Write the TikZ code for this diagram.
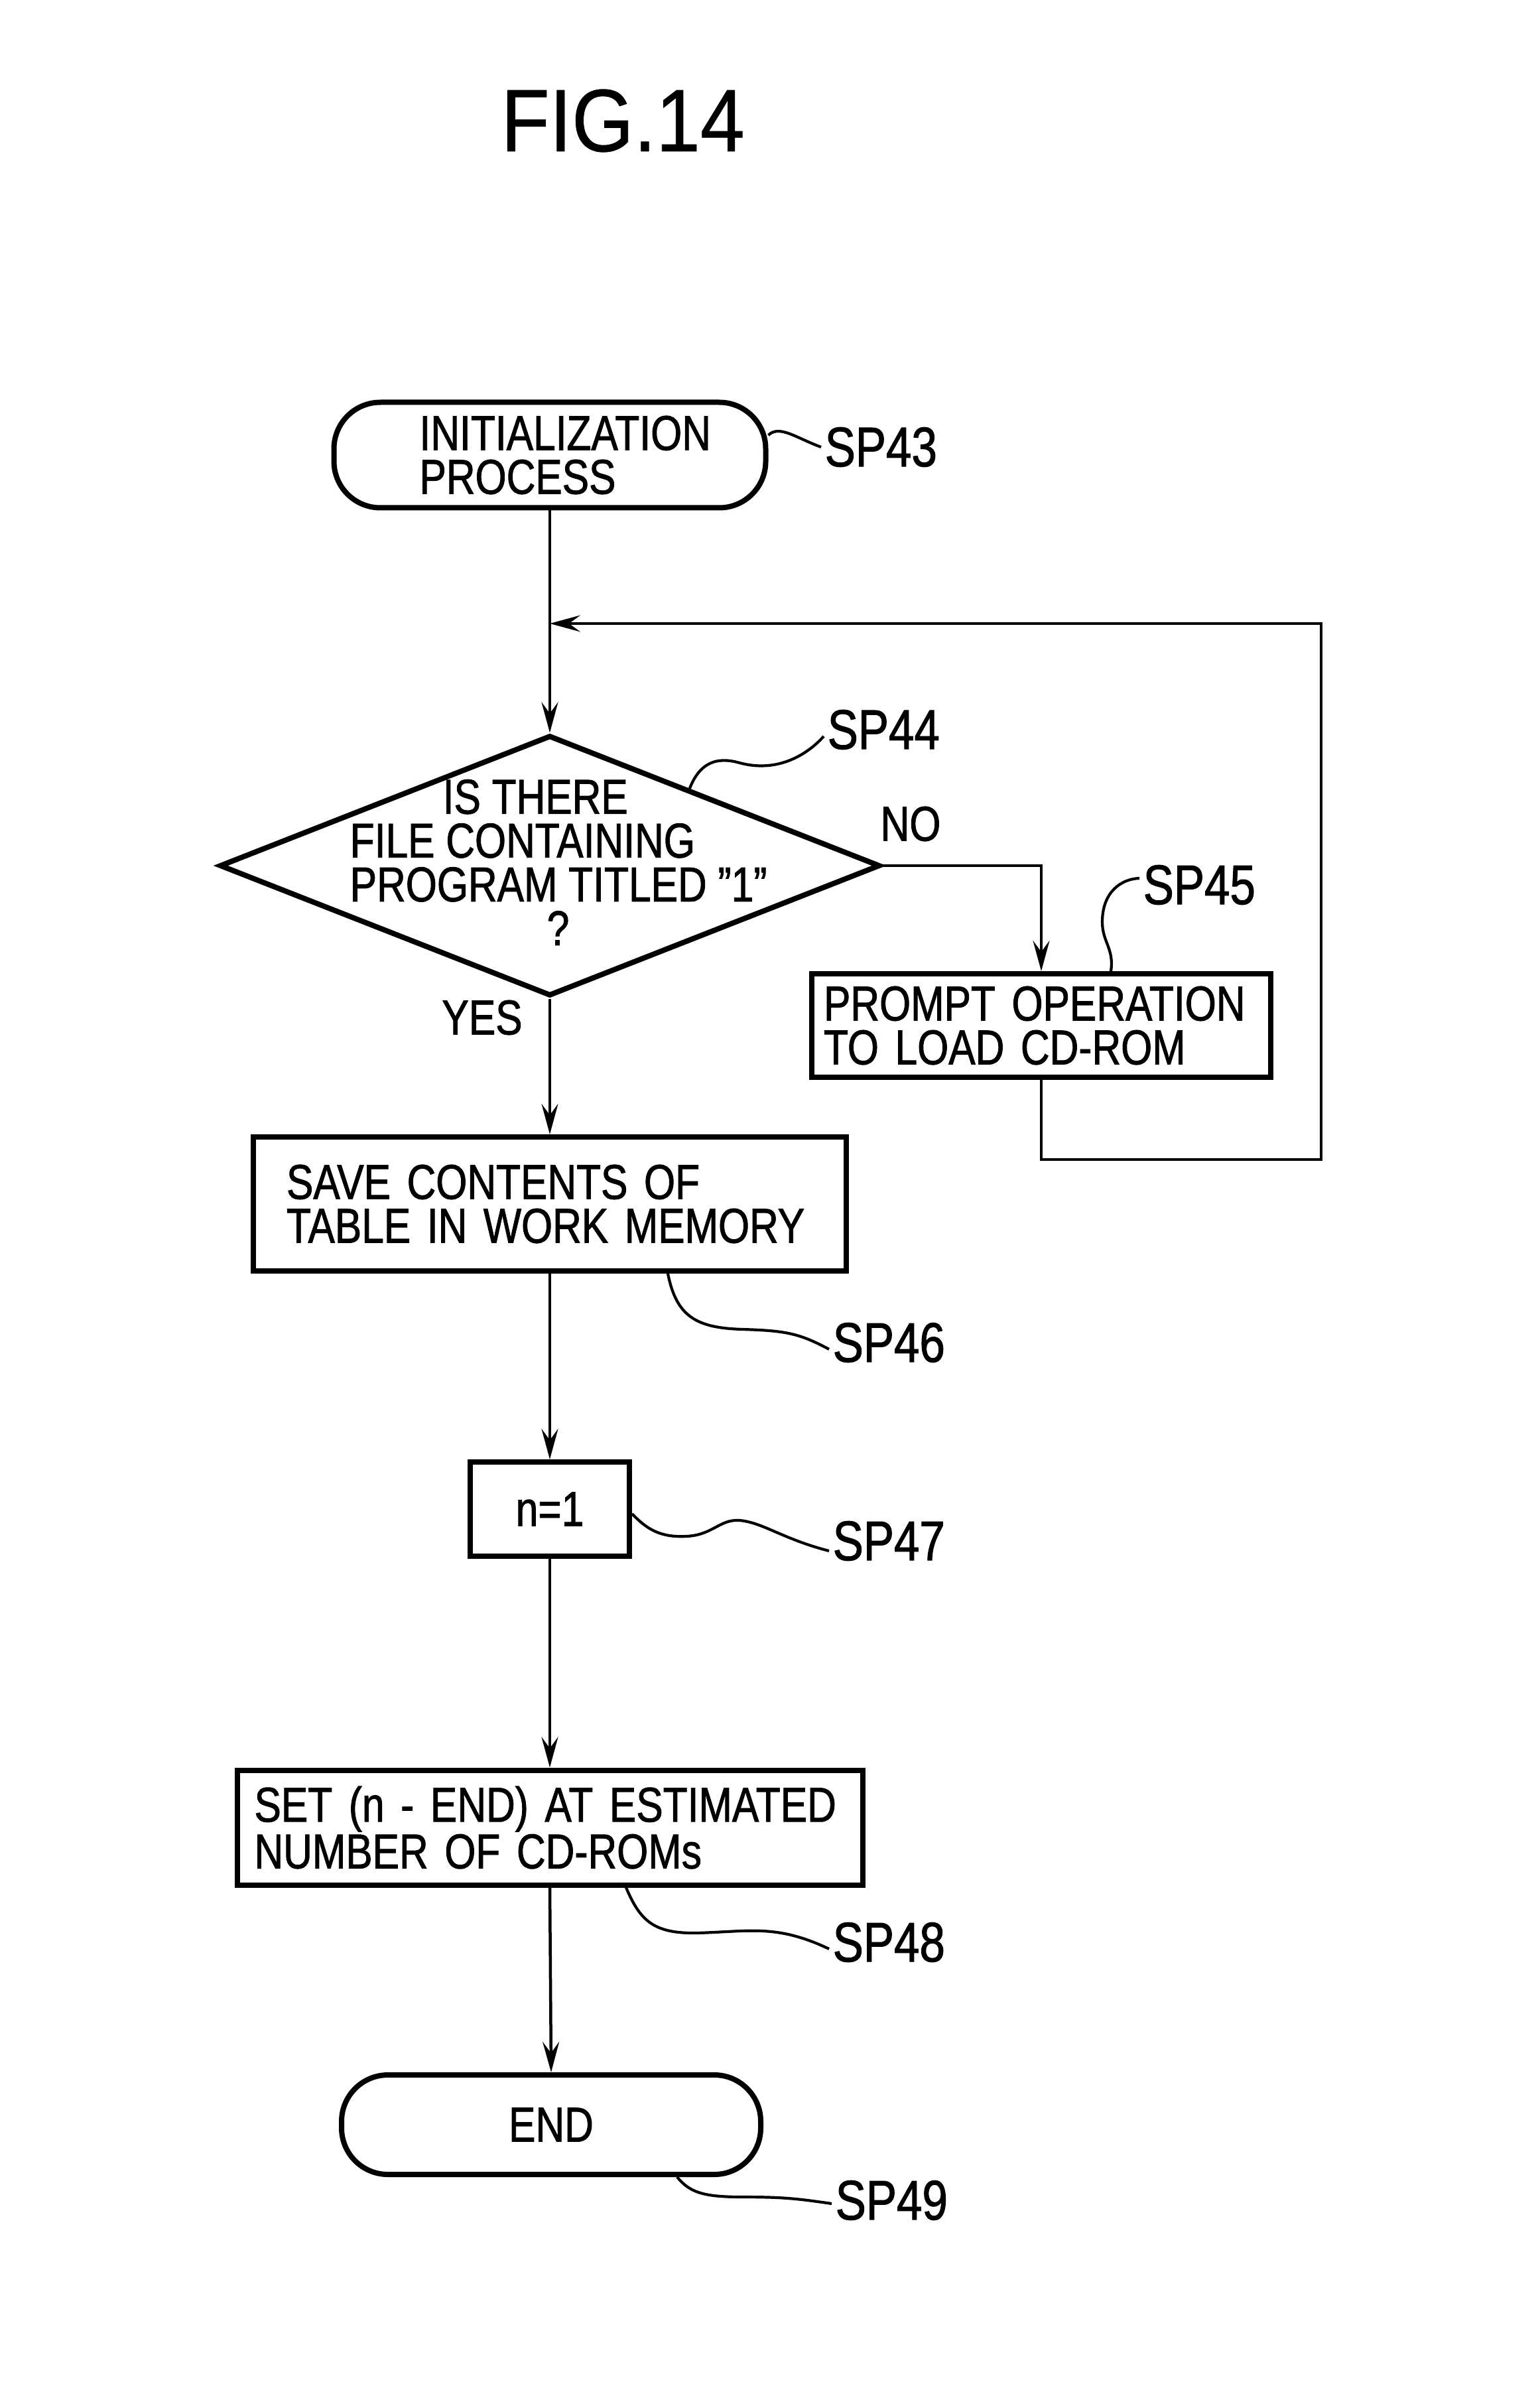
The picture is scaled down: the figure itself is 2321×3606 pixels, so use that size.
\documentclass[tikz,border=0pt]{standalone}
\usepackage{fontspec}
\setmainfont{Liberation Sans}[FakeStretch=0.82,FakeBold=1.2]
\newfontfamily\titlefamily{Liberation Sans}[FakeStretch=0.9,FakeBold=0.6]
\usetikzlibrary{shapes.geometric,arrows.meta,calc}
\newcommand\bxfont{\fontsize{21pt}{18.8pt}\selectfont}
\newcommand\lbfont{\fontsize{24pt}{24pt}\selectfont}
\newcommand\ttlfont{\titlefamily\fontsize{38pt}{38pt}\selectfont}
\begin{document}
\begin{tikzpicture}[x=0.1mm,y=-0.1mm,
  box/.style={draw,line width=0.8mm,rectangle,inner ysep=0pt,font=\bxfont,align=left},
  term/.style={draw,line width=0.8mm,rectangle,rounded corners=7mm,inner ysep=0pt,font=\bxfont},
  conn/.style={line width=0.45mm},
  arr/.style={conn,-{Stealth[length=4.6mm,width=2.5mm,inset=1.7mm]}},
  sq/.style={line width=0.42mm},
  lab/.style={font=\lbfont,anchor=west,inner sep=0.5mm},
  txt/.style={font=\bxfont}]
\fill[white] (0,0) rectangle (2321,3606);
\useasboundingbox (0,0) rectangle (2321,3606);

\node[font=\ttlfont] (title) at (939,182) {FIG.14};

% nodes
\node[term,inner xsep=12.9mm,text width=39.3mm,align=left,minimum height=15.9mm] (s43) at (829,686) {INITIALIZATION\\PROCESS};
\node[diamond,draw,line width=0.8mm,minimum width=99.6mm,minimum height=39.3mm,inner sep=0pt] (s44) at (829,1305) {};
\node[txt,align=left,anchor=west,inner sep=0pt] (s44t) at (527,1300) {\hspace*{14mm}IS THERE\\FILE CONTAINING\\PROGRAM TITLED \char"22 1\char"22\\\hspace*{29.7mm}?};
\node[box,minimum height=15.6mm,inner xsep=1.8mm,text width=65.6mm] (s45) at (1570,1546) {PROMPT OPERATION\\TO LOAD CD-ROM};
\node[box,minimum height=20.2mm,inner xsep=5mm,text width=79.4mm] (s46) at (829,1815) {SAVE CONTENTS OF\\TABLE IN WORK MEMORY};
\node[box,minimum width=24mm,minimum height=14.2mm,align=center] (s47) at (829,2275) {n=1};
\node[box,minimum height=17.3mm,inner xsep=2.6mm,text width=89.1mm] (s48) at (829,2755) {SET (n - END) AT ESTIMATED\\NUMBER OF CD-ROMs};
\node[term,minimum width=63.2mm,minimum height=15mm] (s49) at (831,3203) {END};

% branch texts
\node[txt] (no) at (1373,1242) {NO};
\node[txt] (yes) at (727,1534) {YES};

% reference labels
\node[lab] (l43) at (1238,674) {SP43};
\node[lab] (l44) at (1242,1100) {SP44};
\node[lab] (l45) at (1718,1334) {SP45};
\node[lab] (l46) at (1250,2024) {SP46};
\node[lab] (l47) at (1250,2323) {SP47};
\node[lab] (l48) at (1250,2928) {SP48};
\node[lab] (l49) at (1254,3317) {SP49};

% connectors
\coordinate (lj) at (829,940);
\coordinate (lt) at (1992,940);
\coordinate (lr) at (1992,1748);
\draw[arr] (s43.south) -- (s44.north);
\draw[arr] (s45.south) |- (lr) -- (lt) -- (lj);
\draw[arr] (s44.east) -| (s45.north);
\draw[arr] (s44.south) -- (s46.north);
\draw[arr] (s46.south) -- (s47.north);
\draw[arr] (s47.south) -- (s48.north);
\draw[arr] (s48.south) -- (s49.north);

% squiggles to reference labels
\draw[sq] ([yshift=3mm]s43.east) .. controls (1175,640) and (1200,660) .. (l43.west);
\draw[sq] ($(s44.north)!0.42!(s44.east)$) .. controls (1055,1150) and (1080,1140) .. (1115,1150)
   .. controls (1170,1165) and (1215,1140) .. ([yshift=-1mm]l44.west);
\draw[sq] ([xshift=10.5mm]s45.north) .. controls (1680,1430) and (1662,1420) .. (1662,1390)
   .. controls (1662,1345) and (1690,1325) .. ([yshift=1mm]l45.west);
\draw[sq] ([xshift=17.8mm]s46.south) .. controls (1020,1985) and (1050,2002) .. (1120,2004)
   .. controls (1185,2006) and (1205,2010) .. ([yshift=-1mm]l46.west);
\draw[sq] ([yshift=-0.7mm]s47.east) .. controls (975,2305) and (995,2318) .. (1035,2316)
   .. controls (1075,2314) and (1085,2290) .. (1115,2292)
   .. controls (1150,2295) and (1180,2320) .. ([yshift=-1.5mm]l47.west);
\draw[sq] ([xshift=11.5mm]s48.south) .. controls (965,2895) and (985,2915) .. (1050,2914)
   .. controls (1130,2912) and (1170,2900) .. ([yshift=-1mm]l48.west);
\draw[sq] ([xshift=19mm]s49.south) .. controls (1040,3305) and (1060,3312) .. (1120,3312)
   .. controls (1185,3312) and (1205,3315) .. ([yshift=-0.5mm]l49.west);
\end{tikzpicture}
\end{document}
